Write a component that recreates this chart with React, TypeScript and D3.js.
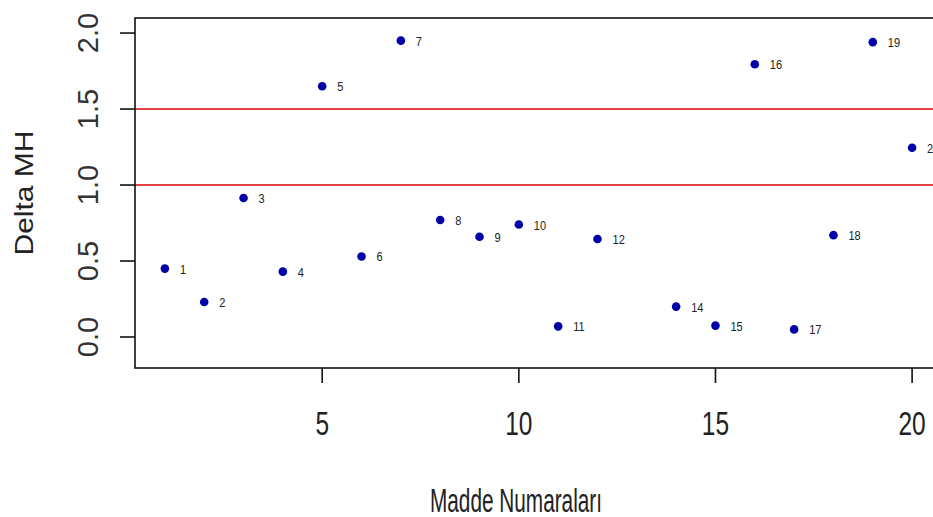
import React, { useEffect, useRef } from 'react';
import * as d3 from 'd3';

// Madde numaralari (13 yok)
const items = [1, 2, 3, 4, 5, 6, 7, 8, 9, 10, 11, 12, 14, 15, 16, 17, 18, 19, 20];
const deltaMH = [0.45, 0.23, 0.915, 0.43, 1.65, 0.53, 1.95, 0.77, 0.66, 0.74, 0.07, 0.645, 0.2, 0.075, 1.795, 0.05, 0.67, 1.94, 1.245];
const xTicks = [5, 10, 15, 20];
const yTicks = [0.0, 0.5, 1.0, 1.5, 2.0];
const cutoffs = [1.0, 1.5];
const xLabel = 'Madde Numaraları';
const yLabel = 'Delta MH';

const App: React.FC = () => {
  const svgRef = useRef<SVGSVGElement>(null);
  const width = 933;
  const height = 517;
  const margin = { top: 18, right: -9, bottom: 149, left: 135 };

  useEffect(() => {
    if (!svgRef.current) return;
    const svg = d3.select(svgRef.current);
    svg.selectAll('*').remove();

    const font = 'Liberation Sans, Arial, sans-serif';

    const x = d3.scaleLinear()
      .domain([0.24, 20.76])
      .range([margin.left, width - margin.right]);

    const y = d3.scaleLinear()
      .domain([-0.204, 2.099])
      .range([height - margin.bottom, margin.top]);

    const [x0, x1] = x.range();
    const [y0, y1] = y.range();

    // threshold lines
    svg.append('g')
      .selectAll('line')
      .data(cutoffs)
      .join('line')
      .attr('x1', x0)
      .attr('x2', x1)
      .attr('y1', d => y(d))
      .attr('y2', d => y(d))
      .attr('stroke', '#d40000')
      .attr('stroke-width', 1.6);

    // box
    svg.append('rect')
      .attr('x', x0)
      .attr('y', y1)
      .attr('width', x1 - x0)
      .attr('height', y0 - y1)
      .attr('fill', 'none')
      .attr('stroke', '#111')
      .attr('stroke-width', 1.6);

    // y axis ticks
    const yAxis = svg.append('g');
    yAxis.selectAll('line')
      .data(yTicks)
      .join('line')
      .attr('x1', x0 - 15)
      .attr('x2', x0)
      .attr('y1', d => y(d))
      .attr('y2', d => y(d))
      .attr('stroke', '#111')
      .attr('stroke-width', 1.6);
    yAxis.selectAll('text')
      .data(yTicks)
      .join('text')
      .attr('transform', d => `translate(98,${y(d)}) rotate(-90)`)
      .attr('text-anchor', 'middle')
      .attr('font-family', font)
      .attr('font-size', 29)
      .attr('fill', '#333')
      .text(d => d.toFixed(1));

    // x axis ticks
    const xAxis = svg.append('g');
    xAxis.selectAll('line')
      .data(xTicks)
      .join('line')
      .attr('x1', d => x(d))
      .attr('x2', d => x(d))
      .attr('y1', y0)
      .attr('y2', y0 + 15)
      .attr('stroke', '#111')
      .attr('stroke-width', 1.6);
    xAxis.selectAll('text')
      .data(xTicks)
      .join('text')
      .attr('transform', d => `translate(${x(d)},435) scale(0.72,1)`)
      .attr('text-anchor', 'middle')
      .attr('font-family', font)
      .attr('font-size', 34)
      .attr('fill', '#222')
      .text(d => d);

    // axis titles
    svg.append('text')
      .attr('transform', 'translate(516,512) scale(0.63,1)')
      .attr('text-anchor', 'middle')
      .attr('font-family', font)
      .attr('font-size', 33)
      .attr('fill', '#222')
      .text(xLabel);

    svg.append('text')
      .attr('transform', `translate(33,${(y0 + y1) / 2}) rotate(-90) scale(1,0.84)`)
      .attr('text-anchor', 'middle')
      .attr('font-family', font)
      .attr('font-size', 30)
      .attr('fill', '#222')
      .text(yLabel);

    // points
    const pts = items.map((d, i) => ({ item: d, value: deltaMH[i] }));
    svg.append('g')
      .selectAll('circle')
      .data(pts)
      .join('circle')
      .attr('cx', d => x(d.item))
      .attr('cy', d => y(d.value))
      .attr('r', 4.3)
      .attr('fill', '#0000a8');

    // point labels
    svg.append('g')
      .selectAll('text')
      .data(pts)
      .join('text')
      .attr('transform', d => `translate(${x(d.item) + 15},${y(d.value) + 5}) scale(0.82,1)`)
      .attr('font-family', font)
      .attr('font-size', 13.5)
      .attr('fill', '#222')
      .text(d => d.item);
  }, []);

  return (
    <svg
      ref={svgRef}
      width={width}
      height={height}
      style={{ position: 'absolute', left: 0, top: 0, background: '#fff' }}
    />
  );
};

export default App;
